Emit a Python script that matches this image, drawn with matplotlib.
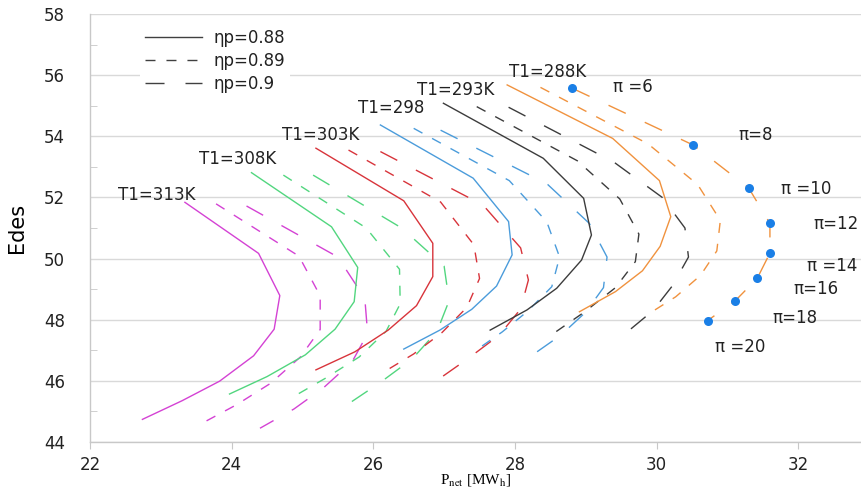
import matplotlib.pyplot as plt
from matplotlib.lines import Line2D
from matplotlib.ticker import MultipleLocator

plt.rcParams['font.family'] = ['DejaVu Sans']
plt.rcParams['mathtext.fontset'] = 'stix'

# pressure ratios along every curve (top -> bottom)
pi_values = [6, 8, 10, 12, 14, 16, 18, 20]

# T1 = 313 K
p313_088 = [23.34, 24.38, 24.68, 24.60, 24.31, 23.83, 23.30, 22.74]
e313_088 = [51.84, 50.17, 48.79, 47.69, 46.82, 45.99, 45.35, 44.74]
p313_089 = [23.78, 24.95, 25.25, 25.25, 24.97, 24.55, 24.07, 23.58]
e313_089 = [51.79, 50.08, 48.78, 47.68, 46.78, 45.92, 45.22, 44.61]
p313_090 = [24.21, 25.50, 25.88, 25.92, 25.70, 25.30, 24.88, 24.40]
e313_090 = [51.72, 50.05, 48.70, 47.55, 46.62, 45.78, 45.08, 44.45]

# T1 = 308 K
p308_088 = [24.28, 25.41, 25.78, 25.73, 25.46, 25.04, 24.50, 23.97]
e308_088 = [52.81, 51.04, 49.71, 48.59, 47.69, 46.85, 46.14, 45.57]
p308_089 = [24.73, 25.90, 26.37, 26.38, 26.18, 25.80, 25.32, 24.87]
e308_089 = [52.73, 51.00, 49.65, 48.52, 47.62, 46.78, 46.08, 45.48]
p308_090 = [25.15, 26.40, 27.00, 27.07, 26.90, 26.55, 26.10, 25.65]
e308_090 = [52.73, 51.00, 49.75, 48.62, 47.62, 46.72, 45.95, 45.25]

# T1 = 303 K
p303_088 = [25.19, 26.43, 26.84, 26.84, 26.61, 26.21, 25.74, 25.19]
e303_088 = [53.61, 51.89, 50.50, 49.41, 48.46, 47.66, 46.95, 46.36]
p303_089 = [25.65, 26.95, 27.42, 27.50, 27.32, 26.97, 26.57, 26.17]
e303_089 = [53.55, 51.85, 50.45, 49.35, 48.40, 47.58, 46.88, 46.32]
p303_090 = [26.10, 27.55, 28.08, 28.19, 28.08, 27.78, 27.35, 26.92]
e303_090 = [53.50, 51.75, 50.35, 49.30, 48.35, 47.50, 46.75, 46.05]

# T1 = 298 K
p298_088 = [26.10, 27.41, 27.91, 27.96, 27.74, 27.39, 26.94, 26.43]
e298_088 = [54.37, 52.63, 51.21, 50.12, 49.10, 48.34, 47.66, 47.04]
p298_089 = [26.57, 27.92, 28.45, 28.63, 28.52, 28.18, 27.82, 27.45]
e298_089 = [54.26, 52.55, 51.20, 50.05, 49.08, 48.28, 47.60, 47.00]
p298_090 = [26.95, 28.45, 29.05, 29.30, 29.25, 29.00, 28.65, 28.25]
e298_090 = [54.20, 52.45, 51.15, 50.05, 49.05, 48.25, 47.50, 46.85]

# T1 = 293 K
p293_088 = [26.99, 28.40, 28.97, 29.08, 28.94, 28.59, 28.17, 27.65]
e293_088 = [55.08, 53.28, 51.97, 50.77, 49.95, 49.03, 48.32, 47.66]
p293_089 = [27.46, 28.88, 29.48, 29.75, 29.70, 29.42, 28.98, 28.50]
e293_089 = [54.97, 53.20, 51.95, 50.80, 49.90, 49.05, 48.25, 47.48]
p293_090 = [27.91, 29.40, 30.08, 30.40, 30.45, 30.22, 29.95, 29.58]
e293_090 = [54.95, 53.15, 52.00, 51.00, 50.05, 49.10, 48.30, 47.59]

# T1 = 288 K
p288_088 = [27.89, 29.38, 30.04, 30.20, 30.05, 29.80, 29.42, 28.91]
e288_088 = [55.68, 53.93, 52.55, 51.37, 50.40, 49.60, 48.92, 48.26]
p288_089 = [28.36, 29.88, 30.58, 30.90, 30.85, 30.62, 30.27, 29.86]
e288_089 = [55.60, 53.75, 52.42, 51.25, 50.25, 49.45, 48.75, 48.15]
p288_090 = [28.81, 30.52, 31.30, 31.60, 31.60, 31.42, 31.11, 30.72]
e288_090 = [55.57, 53.71, 52.31, 51.15, 50.18, 49.35, 48.62, 47.97]

t1_labels = ['T1=313K', 'T1=308K', 'T1=303K', 'T1=298', 'T1=293K', 'T1=288K']
pi_labels = ['π =6', 'π=8', 'π =10', 'π=12', 'π =14', 'π=16', 'π=18', 'π =20']
eta_labels = ['ηp=0.88', 'ηp=0.89', 'ηp=0.9']

short_dash = (7.2, 7.9)
long_dash = (13.7, 15.1)
fs = 12

fig = plt.figure(figsize=(8.62, 4.92), dpi=100)
ax = fig.add_axes([90 / 862, 1 - 442 / 492, 772 / 862, 428 / 492])

groups = [
    ('#d442d4', (p313_088, e313_088), (p313_089, e313_089), (p313_090, e313_090)),
    ('#52d67f', (p308_088, e308_088), (p308_089, e308_089), (p308_090, e308_090)),
    ('#d8343b', (p303_088, e303_088), (p303_089, e303_089), (p303_090, e303_090)),
    ('#4b9cdb', (p298_088, e298_088), (p298_089, e298_089), (p298_090, e298_090)),
    ('#3c3c3c', (p293_088, e293_088), (p293_089, e293_089), (p293_090, e293_090)),
    ('#f0923e', (p288_088, e288_088), (p288_089, e288_089), (p288_090, e288_090)),
]
for color, solid, dash1, dash2 in groups:
    ax.plot(solid[0], solid[1], color=color, lw=1.0)
    l1, = ax.plot(dash1[0], dash1[1], color=color, lw=1.0)
    l1.set_dashes(short_dash)
    l2, = ax.plot(dash2[0], dash2[1], color=color, lw=1.0)
    l2.set_dashes(long_dash)

# pressure ratio markers on the 288 K / 0.9 curve
ax.plot(p288_090, e288_090, 'o', color='#1a7fe6', ms=6.5, mec='none', zorder=5)

# label positions (data coords)
t1_pos = [(22.40, 52.08), (23.54, 53.26), (24.71, 54.04),
          (25.79, 54.93), (26.62, 55.51), (27.92, 56.10)]
for txt, (x, y) in zip(t1_labels, t1_pos):
    ax.text(x, y, txt, fontsize=fs, color='#222222', va='center', ha='left')

pi_pos = [(29.39, 55.61), (31.15, 54.04), (31.75, 52.28), (32.21, 51.13),
          (32.13, 49.76), (31.93, 49.00), (31.63, 48.06), (30.83, 47.11)]
for txt, (x, y) in zip(pi_labels, pi_pos):
    ax.text(x, y, txt, fontsize=fs, color='#222222', va='center', ha='left')

handles = [Line2D([], [], color='#404040', lw=1.0),
           Line2D([], [], color='#404040', lw=1.0, dashes=short_dash),
           Line2D([], [], color='#404040', lw=1.0, dashes=long_dash)]
leg = ax.legend(handles, eta_labels, loc='upper left',
                bbox_to_anchor=(140 / 862, 1 - 24 / 492), bbox_transform=fig.transFigure,
                frameon=True, facecolor='white', edgecolor='none', framealpha=1,
                fontsize=fs, handlelength=3.4, labelspacing=0.3, borderaxespad=0,
                borderpad=0.3, handletextpad=0.7)
for t in leg.get_texts():
    t.set_color('#222222')

ax.set_xlim(22, 32.9)
ax.set_ylim(44, 58)
ax.set_xticks([22, 24, 26, 28, 30, 32])
ax.set_yticks([44, 46, 48, 50, 52, 54, 56, 58])
ax.yaxis.set_minor_locator(MultipleLocator(1))
ax.yaxis.grid(True, which='major', color='#d9d9d9', lw=1.0)
ax.set_axisbelow(True)

for s in ['top', 'right']:
    ax.spines[s].set_visible(False)
for s in ['left', 'bottom']:
    ax.spines[s].set_color('#c8c8c8')
    ax.spines[s].set_linewidth(1.0)

ax.tick_params(axis='y', which='major', length=0, pad=18, labelsize=fs, labelcolor='#222222')
ax.tick_params(axis='y', which='minor', direction='in', length=5, color='#c8c8c8')
ax.tick_params(axis='x', which='major', direction='out', length=5, color='#c8c8c8',
               pad=5, labelsize=fs, labelcolor='#222222')

ax.set_xlabel(r'P$_{\mathrm{net}}$ [MW$_{\mathrm{h}}$]', family=['Liberation Serif'],
              fontsize=11, labelpad=-1)
ax.set_ylabel('Edes', family=['Liberation Sans Narrow', 'DejaVu Sans'], fontsize=15, labelpad=12)

fig.savefig('out.png', dpi=100)
